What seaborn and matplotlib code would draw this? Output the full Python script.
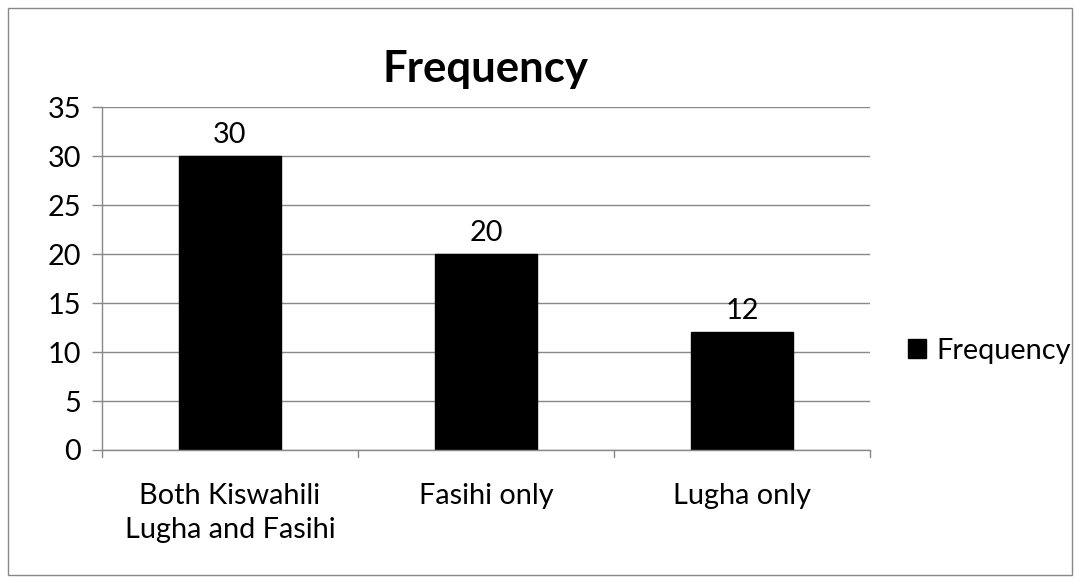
import matplotlib
matplotlib.use("Agg")
import matplotlib.pyplot as plt
import seaborn as sns
import pandas as pd
from matplotlib.patches import Rectangle

categories = ["Both Kiswahili\nLugha and Fasihi", "Fasihi only", "Lugha only"]
values = [30, 20, 12]
yticks = [0, 5, 10, 15, 20, 25, 30, 35]

sns.set_theme(style="white")
plt.rcParams['font.family'] = ['Lato', 'DejaVu Sans']
plt.rcParams['text.color'] = 'black'

df = pd.DataFrame({"cat": categories, "Frequency": values})

FS = 20.8
fig = plt.figure(figsize=(10.81, 5.82), dpi=100)
ax = fig.add_axes([102/1081, 1-450/582, 768/1081, 343/582])
sns.barplot(data=df, x="cat", y="Frequency", color="black", width=0.4, ax=ax,
            saturation=1, label="Frequency")
for p in ax.patches:
    p.set_edgecolor("black")
ax.bar_label(ax.containers[0], labels=[str(v) for v in values], fontsize=FS, padding=6,
             color="black")
ax.set_ylim(0, 35)
ax.set_yticks(yticks)
ax.set_yticklabels([str(t) for t in yticks], fontsize=FS, color="black")
ax.set_xlim(-0.5, 2.5)
ax.set_xlabel("")
ax.set_ylabel("")
for t in ax.get_xticklabels():
    t.set_color("black")
    t.set_fontsize(FS)
    t.set_linespacing(1.35)
ax.tick_params(axis='x', length=0, pad=24)
ax.tick_params(axis='y', length=7, width=1, color="#888888", left=True, pad=8)
ax.yaxis.grid(True, color="#888888", linewidth=1)
ax.set_axisbelow(True)
for s in ["top", "right"]:
    ax.spines[s].set_visible(False)
for s in ["left", "bottom"]:
    ax.spines[s].set_color("#888888")
    ax.spines[s].set_linewidth(1)
for xb in [-0.5, 0.5, 1.5, 2.5]:
    ax.plot([xb, xb], [0, -0.02], transform=ax.get_xaxis_transform(), color="#888888",
            linewidth=1, clip_on=False)
ax.set_title("Frequency", fontsize=31.5, fontweight="bold", pad=18, color="black")
leg = ax.legend(loc="center left", bbox_to_anchor=(1.035, 0.29), frameon=False,
                fontsize=FS, handlelength=0.6, handleheight=0.6, handletextpad=0.35,
                borderaxespad=0)
for t in leg.get_texts():
    t.set_color("black")
fig.patches.append(Rectangle((8/1081, 7/582), 1064/1081, 567/582, transform=fig.transFigure,
                             fill=False, edgecolor="#888888", linewidth=1))
fig.savefig("out.png", dpi=100)
